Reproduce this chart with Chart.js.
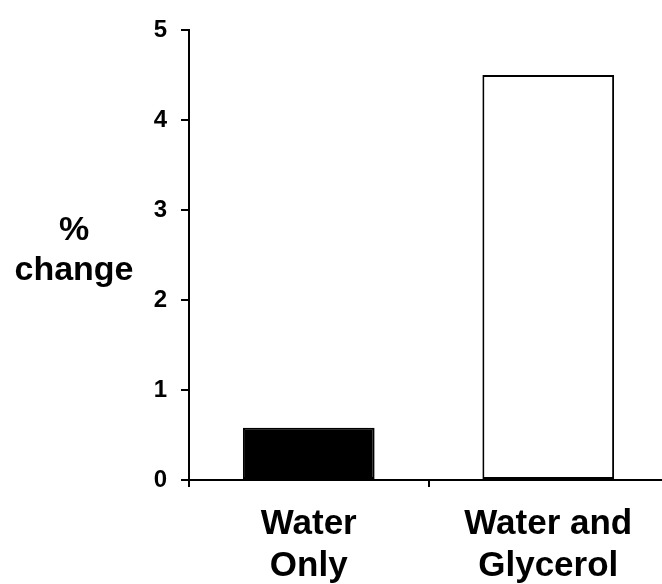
<!DOCTYPE html>
<html>
<head>
<meta charset="utf-8">
<script src="https://cdn.jsdelivr.net/npm/chart.js@4"></script>
<style>
  html, body { margin: 0; padding: 0; background: #fff; overflow: hidden; }
  #wrap { width: 668px; height: 584px; }
</style>
</head>
<body>
<div id="wrap"><canvas id="chart" width="668" height="584"></canvas></div>
<script>
// Data
const categories = [['Water', 'Only'], ['Water and', 'Glycerol']];
const percentChange = [0.58, 4.5];
const barFills = ['#000000', '#ffffff'];
const yTitleLines = ['%', 'change'];
const yMin = 0, yMax = 5, yStep = 1;

Chart.defaults.font.family = "'Liberation Sans', Arial, sans-serif";
Chart.defaults.color = '#000';

// horizontal y title, left of the ticks
const yTitlePlugin = {
    id: 'yTitle',
    afterDraw(chart) {
        const ctx = chart.ctx;
        ctx.save();
        ctx.fillStyle = '#000';
        ctx.font = "bold 34px 'Liberation Sans', Arial, sans-serif";
        ctx.textAlign = 'center';
        ctx.textBaseline = 'alphabetic';
        ctx.fillText(yTitleLines[0], 74, 240);
        ctx.fillText(yTitleLines[1], 74, 280);
        ctx.restore();
    }
};

const ctx = document.getElementById('chart').getContext('2d');
const chart = new Chart(ctx, {
    type: 'bar',
    data: {
        labels: categories,
        datasets: [{
            data: percentChange,
            backgroundColor: barFills,
            borderColor: '#000',
            borderWidth: 2,
            borderSkipped: false,
            barPercentage: 0.55,
            categoryPercentage: 1
        }]
    },
    options: {
        responsive: false,
        animation: false,
        layout: { padding: { top: 30, left: 0, right: 0, bottom: 0 } },
        plugins: { legend: { display: false }, tooltip: { enabled: false } },
        scales: {
            x: {
                offset: true,
                border: { display: true, color: '#000', width: 2 },
                grid: { offset: true, drawOnChartArea: false, drawTicks: true, tickLength: 7, color: '#000', lineWidth: 2 },
                ticks: { font: { size: 35, weight: 'bold', lineHeight: 1.2 }, color: '#000', padding: 16, maxRotation: 0, autoSkip: false },
                afterFit(scale) { scale.height = 104; }
            },
            y: {
                min: yMin, max: yMax,
                border: { display: true, color: '#000', width: 2 },
                grid: { drawOnChartArea: false, drawTicks: true, tickLength: 8, color: '#000', lineWidth: 2 },
                ticks: { stepSize: yStep, font: { size: 24, weight: 'bold' }, color: '#000', padding: 14 },
                afterFit(scale) { scale.width = 189; }
            }
        }
    },
    plugins: [yTitlePlugin]
});
</script>
</body>
</html>
